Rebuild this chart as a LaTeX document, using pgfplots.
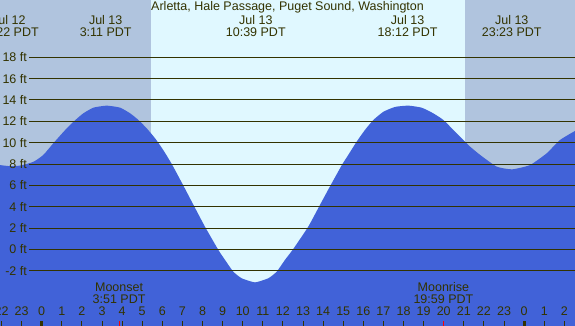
\documentclass[border=0pt]{standalone}
\usepackage{pgfplots}
\pgfplotsset{compat=1.18}
\usepackage{fontspec}
\setmainfont{Liberation Sans}
\definecolor{night}{HTML}{B0C4DE}
\definecolor{day}{HTML}{E0F8FF}
\definecolor{tide}{HTML}{4162D8}
\definecolor{ink}{HTML}{333300}
\tikzset{txt/.style={text=ink, font=\fontsize{12.5}{12}\selectfont, inner sep=0pt, align=center}}
\begin{document}
\begin{tikzpicture}
\begin{axis}[name=ax, anchor=south west, at={(0,0)}, scale only axis, width=575pt, height=326pt,
  xmin=-2.075, xmax=26.53, ymin=-7.18, ymax=23.37, hide axis, clip=true]
\addplot[fill=night, draw=none] coordinates {(-2.075,-7.18) (26.53,-7.18) (26.53,23.37) (-2.075,23.37)} -- cycle;
\addplot[fill=day, draw=none] coordinates {(5.44,-7.18) (21.06,-7.18) (21.06,23.37) (5.44,23.37)} -- cycle;
\addplot[fill=tide, draw=none, smooth, tension=0.3] coordinates {
(-2.075,7.9) (-1.6,7.8) (-1.08,7.85) (-0.42,8.2) (0.08,8.85) (0.58,9.95) (0.91,10.65) (1.24,11.33)
(1.66,12.1) (2.07,12.75) (2.57,13.28) (3.23,13.47) (3.9,13.28) (4.4,12.75) (4.81,12.13) (5.22,11.35)
(5.64,10.41) (6.05,9.3) (6.47,8.0) (7.04,6.0) (7.54,4.2) (8.12,2.13) (8.79,-0.06) (9.12,-0.99)
(9.53,-2.09) (9.95,-2.71) (10.61,-3.09) (11.27,-2.71) (11.69,-2.09) (12.1,-0.99) (12.5,0.0) (13.26,2.13)
(13.84,4.16) (14.34,5.9) (14.93,7.9) (15.25,8.85) (15.67,10.1) (16.08,11.19) (16.5,12.13) (17.0,12.9)
(17.58,13.35) (18.24,13.47) (18.9,13.28) (19.48,12.75) (19.98,12.13) (20.48,11.19) (20.98,10.25) (21.31,9.63)
(21.81,8.85) (22.64,7.75) (23.4,7.5) (24.29,7.9) (25.12,9.0) (25.78,10.25) (26.53,11.1)
} -- (axis cs:26.53,-7.18) -- (axis cs:-2.075,-7.18) -- cycle;
\pgfplotsinvokeforeach{-2,0,2,4,6,8,10,12,14,16,18}{
  \draw[ink, line width=1pt] (axis cs:-0.617,#1) -- (axis cs:26.53,#1);
  \node[txt, anchor=east] at (axis cs:-0.73,#1) {#1 ft};
}
\pgfplotsinvokeforeach{-2,-1,0,1,2,3,4,5,6,7,8,9,10,11,12,13,14,15,16,17,18,19,20,21,22,23,24,25,26}{
  \pgfmathtruncatemacro\hh{mod(#1+24,24)}
  \edef\tmp{\noexpand\node[txt] at (axis cs:#1,-5.82) {\hh};}\tmp
  \draw[ink, line width=1pt] (axis cs:#1,-7.18) -- (axis cs:#1,-6.68);
}
\draw[ink, line width=3pt] (axis cs:0,-7.18) -- (axis cs:0,-6.68);
\draw[ink, line width=3pt] (axis cs:24,-7.18) -- (axis cs:24,-6.68);
\draw[red, line width=1pt] (axis cs:3.85,-7.18) -- (axis cs:3.85,-6.68);
\draw[red, line width=1pt] (axis cs:19.983,-7.18) -- (axis cs:19.983,-6.68);
\node[txt] at (axis cs:3.85,-4.09) {Moonset\\3:51 PDT};
\node[txt] at (axis cs:19.983,-4.09) {Moonrise\\19:59 PDT};
\node[txt] at (axis cs:12.23,22.71) {Arletta, Hale Passage, Puget Sound, Washington};
\node[txt] at (axis cs:-1.633,20.93) {Jul 12\\22:22 PDT};
\node[txt] at (axis cs:3.183,20.93) {Jul 13\\3:11 PDT};
\node[txt] at (axis cs:10.65,20.93) {Jul 13\\10:39 PDT};
\node[txt] at (axis cs:18.2,20.93) {Jul 13\\18:12 PDT};
\node[txt] at (axis cs:23.383,20.93) {Jul 13\\23:23 PDT};
\end{axis}
\pgfresetboundingbox
\path[use as bounding box] (ax.south west) rectangle (ax.north east);
\end{tikzpicture}
\end{document}
